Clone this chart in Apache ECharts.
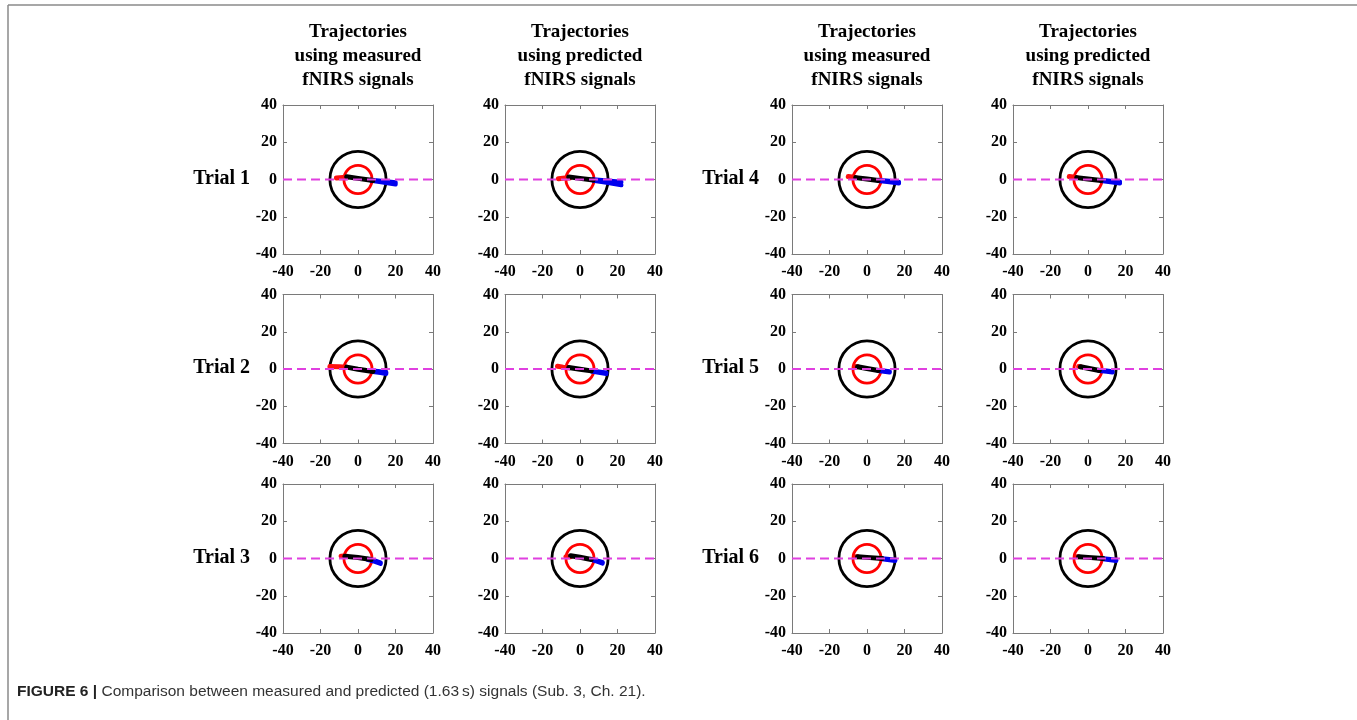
<!DOCTYPE html>
<html>
<head>
<meta charset="utf-8">
<script src="https://cdn.jsdelivr.net/npm/echarts@6/dist/echarts.min.js"></script>
<style>
html,body{margin:0;padding:0;background:#fff;}
#chart{width:1357px;height:720px;}
</style>
</head>
<body>
<div id="chart"></div>
<script>
// ---------- DATA ----------
const columnTitles = [
  ['Trajectories','using measured','fNIRS signals'],
  ['Trajectories','using predicted','fNIRS signals'],
  ['Trajectories','using measured','fNIRS signals'],
  ['Trajectories','using predicted','fNIRS signals']
];
const trialLabels = ['Trial 1','Trial 4','Trial 2','Trial 5','Trial 3','Trial 6'];
const axisMin = -40, axisMax = 40, axisStep = 20;
const outerCircle = [[0, 0, 15]];
const innerCircle = [[0, 0, 7.5]];
const magentaLine = [[-40, 0], [40, 0]];
const caption = 'Comparison between measured and predicted (1.63\u2009s) signals (Sub. 3, Ch. 21).';

// Panels in row order: T1 meas, T1 pred, T4 meas, T4 pred, T2 meas, T2 pred, T5 meas, T5 pred, T3 meas, T3 pred, T6 meas, T6 pred
const redPaths = [
  [[-11.5,0.8],[-8,1.1],[-6,1.0]],
  [[-11.5,0.4],[-8,0.8],[-5.5,0.8]],
  [[-10,1.6],[-8,1.3],[-6,1.0]],
  [[-10,1.6],[-8,1.3],[-6,1.0]],
  [[-15,1.3],[-10,1.2],[-6,1.0]],
  [[-12,1.5],[-9,1.0],[-6,0.6]],
  [[-6.5,1.3],[-5,1.2]],
  [[-5,1.3],[-4,1.2]],
  [[-9,1.2],[-7.5,1.3],[-6,1.2]],
  [[-7.5,1.0],[-5,1.0]],
  [[-6,1.0],[-5,1.0]],
  [[-6,1.0],[-5,1.0]]
];
const blackPaths = [
  [[-6,1.5],[0,0.6],[8,-0.5]],
  [[-6,1.4],[0,0.6],[7,-0.3]],
  [[-6,1.0],[0,0.3],[6,-0.5]],
  [[-6,1.0],[0,0.3],[7,-0.5]],
  [[-6,1.0],[0,-0.1],[8,-1.3]],
  [[-6,0.8],[0,-0.1],[6,-1.0]],
  [[-5,1.2],[0,0.3],[6,-0.8]],
  [[-4,1.2],[0,0.4],[6,-0.8]],
  [[-7,1.2],[0,0.5],[7,-0.5]],
  [[-5,1.5],[0,0.7],[6,-0.5]],
  [[-5,1.0],[0,0.6],[8,0.0]],
  [[-5,1.0],[0,0.6],[8,0.0]]
];
const blueUpper = [
  [[7,-0.2],[14,-0.9],[20,-1.6]],
  [[7,0.0],[15,-0.7],[22,-1.4]],
  [[6,-0.3],[12,-0.8],[17,-1.3]],
  [[7,-0.3],[12,-0.8],[17,-1.2]],
  [[8,-1.0],[12,-1.4],[15,-1.8]],
  [[6,-0.8],[10,-1.4],[14,-2.0]],
  [[6,-0.6],[9,-0.9],[12,-1.3]],
  [[6,-0.6],[10,-1.0],[13,-1.3]],
  [[5,-0.3],[9,-1.2],[12,-2.2]],
  [[6,-0.3],[9,-1.2],[12,-2.0]],
  [[8,0.0],[12,-0.4],[15,-0.8]],
  [[8,0.0],[12,-0.4],[15,-0.8]]
];
const blueLower = [
  [[7,-0.6],[14,-1.6],[20,-2.6]],
  [[7,-0.5],[15,-1.8],[22,-3.0]],
  [[6,-0.7],[12,-1.4],[17,-2.0]],
  [[7,-0.7],[12,-1.4],[17,-2.0]],
  [[8,-1.5],[12,-2.0],[15,-2.5]],
  [[6,-1.2],[10,-1.9],[14,-2.6]],
  [[6,-1.0],[9,-1.4],[12,-1.8]],
  [[6,-1.0],[10,-1.4],[13,-1.8]],
  [[5,-0.6],[9,-1.7],[12,-2.8]],
  [[6,-0.6],[9,-1.6],[12,-2.6]],
  [[8,-0.3],[12,-0.8],[15,-1.2]],
  [[8,-0.3],[12,-0.8],[15,-1.2]]
];

// ---------- LAYOUT ----------
const colLeft = [283, 505, 792, 1013];
const rowTop = [105, 294.5, 484];
const boxW = 150, boxH = 149;
const serif = '"Liberation Serif","Times New Roman",serif';

const grids = [], xAxes = [], yAxes = [], series = [];
const axisLineStyle = {color: '#7a7a7a', width: 1};
const tickStyle = {show: true, inside: true, length: 4, lineStyle: {color: '#7a7a7a'}};
const labelStyle = {color: '#000', fontFamily: serif, fontWeight: 'bold', fontSize: 16};

function circleRender(color) {
  return function (params, api) {
    const c = api.coord([api.value(0), api.value(1)]);
    const r = api.size([api.value(2), 0])[0];
    return {type: 'circle', shape: {cx: c[0], cy: c[1], r: r},
      style: {fill: 'none', stroke: color, lineWidth: 2.8}};
  };
}

let p = 0;
for (let r = 0; r < 3; r++) {
  for (let c = 0; c < 4; c++) {
    grids.push({left: colLeft[c], top: rowTop[r], width: boxW, height: boxH, containLabel: false});
    const xi = xAxes.length, yi = yAxes.length;
    const base = {min: axisMin, max: axisMax, interval: axisStep, gridIndex: p,
      axisLine: {show: true, onZero: false, lineStyle: axisLineStyle}, axisTick: tickStyle,
      splitLine: {show: false}};
    xAxes.push(Object.assign({type: 'value', position: 'bottom',
      axisLabel: Object.assign({margin: 10, showMinLabel: true, showMaxLabel: true}, labelStyle)}, base));
    xAxes.push(Object.assign({type: 'value', position: 'top', axisLabel: {show: false}}, base));
    yAxes.push(Object.assign({type: 'value', position: 'left',
      axisLabel: Object.assign({margin: 6, showMinLabel: true, showMaxLabel: true}, labelStyle)}, base));
    yAxes.push(Object.assign({type: 'value', position: 'right', axisLabel: {show: false}}, base));

    const ax = {xAxisIndex: xi, yAxisIndex: yi};
    series.push(Object.assign({type: 'custom', renderItem: circleRender('#000'), data: outerCircle, z: 2, silent: true, clip: false}, ax));
    series.push(Object.assign({type: 'custom', renderItem: circleRender('#ff0000'), data: innerCircle, z: 2, silent: true, clip: false}, ax));
    const lineCommon = {type: 'line', showSymbol: false, symbol: 'none', silent: true, z: 3, animation: false};
    series.push(Object.assign({}, lineCommon, ax, {data: redPaths[p], lineStyle: {color: '#ff1010', width: 5, cap: 'round', join: 'round'}}));
    series.push(Object.assign({}, lineCommon, ax, {data: blueUpper[p], lineStyle: {color: '#0000ee', width: 4.5, cap: 'round', join: 'round'}}));
    series.push(Object.assign({}, lineCommon, ax, {data: blueLower[p], lineStyle: {color: '#0000ee', width: 4.5, cap: 'round', join: 'round'}}));
    series.push(Object.assign({}, lineCommon, ax, {data: blackPaths[p], lineStyle: {color: '#000', width: 5, cap: 'round', join: 'round'}}));
    series.push(Object.assign({}, lineCommon, ax, {data: magentaLine, z: 4, lineStyle: {color: '#e040e0', width: 1.8, type: [9, 5]}}));
    p++;
  }
}

// ---------- TEXT ----------
const graphics = [];
const colCenter = colLeft.map(l => l + boxW / 2);
columnTitles.forEach((lines, c) => {
  lines.forEach((t, i) => {
    graphics.push({type: 'text', x: colCenter[c], y: 32 + i * 24, silent: true,
      style: {text: t, font: 'bold 19px ' + serif, fill: '#000', align: 'center', verticalAlign: 'middle'}});
  });
});
trialLabels.forEach((t, i) => {
  const r = Math.floor(i / 2), c = (i % 2) * 2;
  graphics.push({type: 'text', x: colLeft[c] - 33, y: rowTop[r] + boxH / 2 - 1, silent: true,
    style: {text: t, font: 'bold 20px ' + serif, fill: '#000', align: 'right', verticalAlign: 'middle'}});
});
graphics.push({type: 'text', x: 17, y: 692, silent: true,
  style: {
    text: '{b|FIGURE 6 |} ' + caption,
    rich: {b: {fontFamily: '"Liberation Sans Narrow","Liberation Sans",Arial,sans-serif', fontWeight: 'bold', fontSize: 15.5, fill: '#222'}},
    font: '15.5px "Liberation Sans Narrow","Liberation Sans",Arial,sans-serif', fill: '#333', verticalAlign: 'middle'}});
// frame
graphics.push({type: 'line', silent: true, shape: {x1: 8, y1: 5, x2: 1357, y2: 5}, style: {stroke: '#8a8a8a', lineWidth: 1.5}});
graphics.push({type: 'line', silent: true, shape: {x1: 8, y1: 5, x2: 8, y2: 720}, style: {stroke: '#8a8a8a', lineWidth: 1.5}});

const chart = echarts.init(document.getElementById('chart'), null, {renderer: 'canvas'});
chart.setOption({
  animation: false,
  backgroundColor: '#fff',
  grid: grids,
  xAxis: xAxes,
  yAxis: yAxes,
  series: series,
  graphic: graphics
});
</script>
</body>
</html>
